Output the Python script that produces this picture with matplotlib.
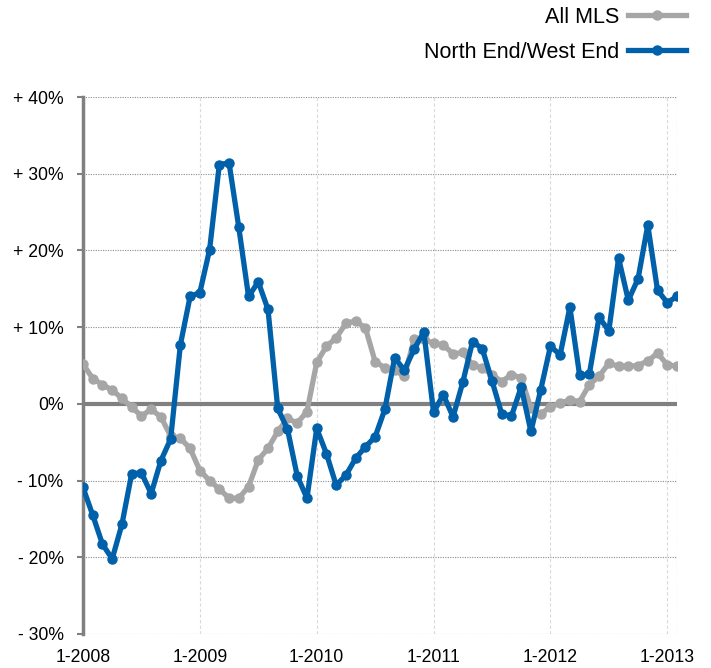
import matplotlib.pyplot as plt

plt.rcParams['font.family'] = ['Liberation Sans', 'DejaVu Sans']

# monthly, 1-2008 .. 2-2013, year-over-year change in %
all_mls = [5.2, 3.3, 2.5, 1.8, 0.7, -0.4, -1.6, -0.7, -1.7, -4.2, -4.5, -5.8,
           -8.7, -10.0, -11.1, -12.3, -12.3, -10.8, -7.3, -5.8, -3.6, -1.9, -2.5, -1.0,
           5.4, 7.5, 8.6, 10.5, 10.8, 9.9, 5.5, 4.7, 4.4, 3.6, 8.4, 8.4,
           7.9, 7.7, 6.5, 6.7, 5.1, 4.7, 3.8, 2.9, 3.8, 3.4, -0.6, -1.3,
           -0.4, 0.1, 0.5, 0.3, 2.5, 3.6, 5.3, 4.9, 4.9, 5.0, 5.6, 6.6,
           5.1, 4.9]
north_west = [-10.9, -14.5, -18.3, -20.2, -15.7, -9.1, -9.0, -11.7, -7.4, -4.6, 7.7, 14.0,
              14.5, 20.1, 31.2, 31.4, 23.0, 14.0, 15.9, 12.3, -0.6, -3.3, -9.4, -12.3,
              -3.2, -6.5, -10.6, -9.3, -7.1, -5.6, -4.3, -0.7, 6.0, 4.4, 7.1, 9.4,
              -1.1, 1.2, -1.7, 2.8, 8.1, 7.2, 3.0, -1.3, -1.6, 2.2, -3.6, 1.8,
              7.5, 6.4, 12.6, 3.7, 3.9, 11.3, 9.5, 19.0, 13.5, 16.3, 23.3, 14.8,
              13.2, 14.0]
year_labels = ['1-2008', '1-2009', '1-2010', '1-2011', '1-2012', '1-2013']
y_ticks = [40, 30, 20, 10, 0, -10, -20, -30]
y_labels = ['+ 40%', '+ 30%', '+ 20%', '+ 10%', '0%', '- 10%', '- 20%', '- 30%']

months = list(range(len(all_mls)))

fig = plt.figure(figsize=(7.11, 6.68), dpi=100)
ax = fig.add_axes([83 / 711, 34 / 668, 594 / 711, 537 / 668])

# grid: vertical year lines (light dashed), horizontal dotted
for i in range(1, len(year_labels)):
    ax.axvline(i * 12, color='#dadada', lw=0.8, ls=(0, (3, 2)), zorder=1)
for v in y_ticks:
    if v != 0:
        ax.axhline(v, color='#8c8c8c', lw=0.8, ls=(0, (1, 1.2)), zorder=1)
ax.axvline(months[-1], color='#8c8c8c', lw=0.8, ls=(0, (1, 1.2)), zorder=1)
ax.axhline(0, color='#808080', lw=3, zorder=2)

ax.plot(months, all_mls, color='#a6a6a6', lw=3.8, marker='o', ms=6.5,
        solid_joinstyle='round', label='All MLS', zorder=3)
ax.plot(months, north_west, color='#0060a9', lw=3.8, marker='o', ms=6.5,
        solid_joinstyle='round', label='North End/West End', zorder=4)

ax.set_xlim(0, months[-1])
ax.set_ylim(-30, 40)
ax.set_xticks([i * 12 for i in range(len(year_labels))])
ax.set_xticklabels(year_labels, fontsize=12.7)
ax.set_yticks(y_ticks)
ax.set_yticklabels(y_labels, fontsize=12.7)
ax.tick_params(axis='x', length=0, pad=11)
ax.tick_params(axis='y', length=4, width=1.5, color='#808080', pad=10)

for s in ['top', 'right', 'bottom']:
    ax.spines[s].set_visible(False)
ax.spines['left'].set_color('#808080')
ax.spines['left'].set_linewidth(2.5)

ax.legend(loc='upper right', bbox_to_anchor=(686 / 711, 1 - 7 / 668),
          bbox_transform=fig.transFigure, frameon=False, markerfirst=False,
          fontsize=15.5, handlelength=2.7, handletextpad=0.4, numpoints=1,
          labelspacing=0.65, borderpad=0, borderaxespad=0)

fig.savefig('out.png', dpi=100)
